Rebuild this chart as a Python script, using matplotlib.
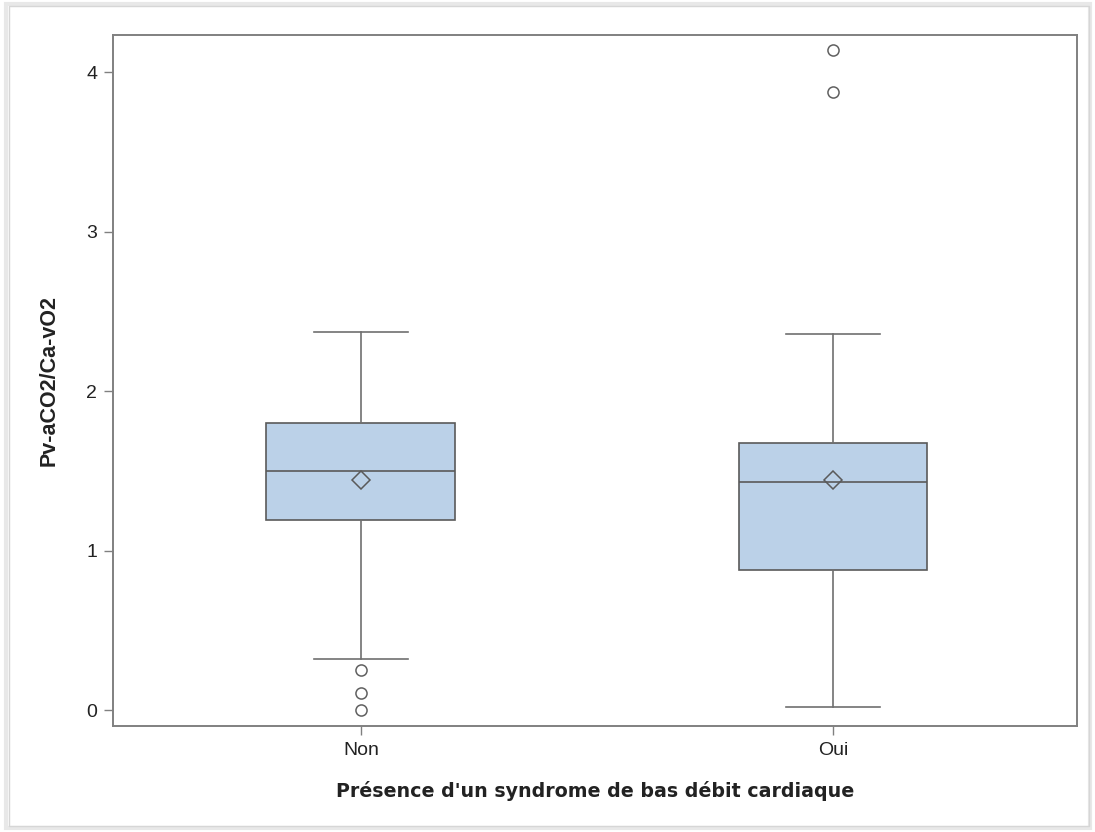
import matplotlib
matplotlib.use("Agg")
import matplotlib.pyplot as plt
from matplotlib.patches import Rectangle

# Data
categories = ["Non", "Oui"]
whisker_low = [0.32, 0.02]
q1 = [1.19, 0.88]
median = [1.50, 1.43]
q3 = [1.80, 1.675]
whisker_high = [2.37, 2.36]
means = [1.44, 1.44]
outliers = [[0.25, 0.105, 0.0], [4.135, 3.877]]

y_ticks = [0, 1, 2, 3, 4]
x_label = "Présence d'un syndrome de bas débit cardiaque"
y_label = "Pv-aCO2/Ca-vO2"

fig = plt.figure(figsize=(10.95, 8.32), dpi=100)
fig.patch.set_facecolor("white")
# picture frame with faint shadow
fig.patches.append(Rectangle((6 / 1095, 4 / 832), 1084 / 1095, 824 / 832,
                             transform=fig.transFigure, fill=False,
                             edgecolor="#e8e8e8", linewidth=3, zorder=-1))
fig.patches.append(Rectangle((9 / 1095, 6 / 832), 1080 / 1095, 820 / 832,
                             transform=fig.transFigure, fill=False,
                             edgecolor="#d6d6d6", linewidth=1, zorder=-1))

ax = fig.add_axes([113 / 1095, 1 - 726 / 832, 964 / 1095, 691 / 832])

stats = []
for i, c in enumerate(categories):
    stats.append(dict(label=c, whislo=whisker_low[i], q1=q1[i], med=median[i],
                      q3=q3[i], whishi=whisker_high[i], mean=means[i],
                      fliers=outliers[i]))

edge = "#5a5a5a"
ax.bxp(stats, positions=[1, 2], widths=0.40, patch_artist=True,
       showmeans=True, showfliers=True, capwidths=0.20,
       boxprops=dict(facecolor="#bbd1e8", edgecolor=edge, linewidth=1.2),
       medianprops=dict(color=edge, linewidth=1.2),
       whiskerprops=dict(color="#707070", linewidth=1.2),
       capprops=dict(color="#707070", linewidth=1.2),
       meanprops=dict(marker="D", markerfacecolor="none", markeredgecolor=edge,
                      markersize=9, markeredgewidth=1.1),
       flierprops=dict(marker="o", markerfacecolor="none", markeredgecolor="#606060",
                       markersize=8, markeredgewidth=1.1))

ax.set_xlim(0.475, 2.517)
ax.set_ylim(-0.10, 4.232)
ax.set_yticks(y_ticks)
ax.set_xticks([1, 2])
ax.set_xticklabels(categories)

for s in ax.spines.values():
    s.set_color("#808080")
    s.set_linewidth(1.4)

ax.tick_params(axis="both", direction="out", length=6.5, width=1.0, color="#808080",
               labelsize=14, labelcolor="#222222", pad=5)
for lab in ax.get_xticklabels() + ax.get_yticklabels():
    lab.set_family(["Liberation Sans", "DejaVu Sans"])

ax.set_ylabel(y_label, family=["Liberation Sans", "DejaVu Sans"], fontweight="bold",
              fontsize=15.5, color="#222222", labelpad=19)
ax.set_xlabel(x_label, family=["DejaVu Sans"], fontweight="bold",
              fontsize=13.7, color="#222222", labelpad=16)

fig.savefig("out.png", dpi=100, facecolor="white")
